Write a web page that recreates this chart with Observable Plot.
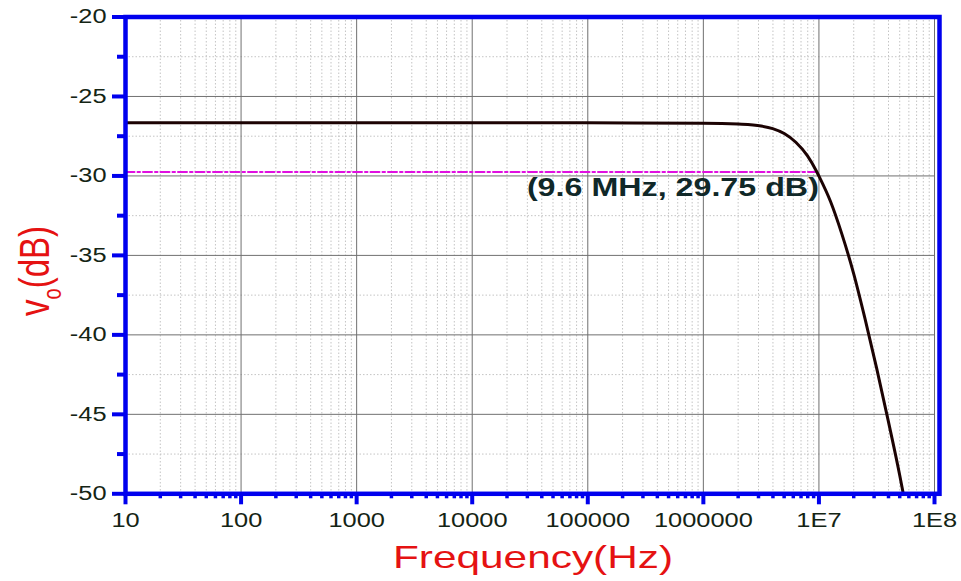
<!DOCTYPE html>
<html>
<head>
<meta charset="utf-8">
<script src="https://cdn.jsdelivr.net/npm/d3@7"></script>
<script src="https://cdn.jsdelivr.net/npm/@observablehq/plot@0.6"></script>
<style>
  html, body { margin: 0; padding: 0; background: #fff; }
  svg { display: block; }
</style>
</head>
<body>
<div id="chart"></div>
<script>
// Frequency response of the amplifier output, v_o in dB versus frequency
const freqHz = [10, 100, 1000, 1e4, 1e5, 1e6, 2.0e6, 3.16e6, 3.98e6, 5.01e6, 6.31e6, 7.94e6, 9.6e6, 1.0e7, 1.26e7, 1.58e7, 2.0e7, 2.51e7, 3.16e7, 3.98e7, 5.01e7, 5.37e7];
const gainDb = [-26.66, -26.66, -26.66, -26.66, -26.66, -26.68, -26.74, -26.86, -27.02, -27.33, -27.88, -28.72, -29.75, -30.01, -31.61, -33.66, -36.16, -39.01, -42.11, -45.41, -48.86, -50.0];

// -3 dB corner annotation
const cutoffHz = 9.6e6;
const cutoffDb = 29.75;
const cutoffLabel = "(9.6 MHz, 29.75 dB)";

// Axis ticks and labels
const xTicks = [10, 100, 1000, 1e4, 1e5, 1e6, 1e7, 1e8];
const xTickLabels = ["10", "100", "1000", "10000", "100000", "1000000", "1E7", "1E8"];
const yTicks = [-50, -45, -40, -35, -30, -25, -20];
const yTickLabels = ["-50", "-45", "-40", "-35", "-30", "-25", "-20"];
const xTitle = "Frequency(Hz)";
const yTitleMain = "v";
const yTitleSub = "o";
const yTitleUnit = "(dB)";

// Minor ticks: 2..9 within each decade, and halfway between the dB majors
const xMinor = xTicks.slice(0, -1).flatMap(d => [2, 3, 4, 5, 6, 7, 8, 9].map(k => d * k));
const yMinor = yTicks.slice(0, -1).map((v, i) => (v + yTicks[i + 1]) / 2);

const response = freqHz.map((f, i) => ({f, db: gainDb[i]}));
const marker = [{f: xTicks[0], db: -cutoffDb}, {f: cutoffHz, db: -cutoffDb}];

const blue = "#0000ee";
const tickInk = "#142414";
const titleRed = "#e51212";

const plot = Plot.plot({
  width: 961,
  height: 581,
  marginLeft: 125,
  marginRight: 27,
  marginTop: 16.5,
  marginBottom: 87.7,
  style: {fontFamily: "'Liberation Sans', Arial, sans-serif", background: "#fff"},
  x: {type: "log", domain: [10, 1e8], label: null},
  y: {domain: [-50, -20], label: null},
  marks: [
    Plot.gridX(xMinor, {stroke: "#c4c4c4", strokeOpacity: 1, strokeDasharray: "1.5,2"}),
    Plot.gridY(yMinor, {stroke: "#c4c4c4", strokeOpacity: 1, strokeDasharray: "1.5,2"}),
    Plot.gridX(xTicks, {stroke: "#707070", strokeOpacity: 1, strokeWidth: 1}),
    Plot.gridY(yTicks, {stroke: "#707070", strokeOpacity: 1, strokeWidth: 1}),
    Plot.line(marker, {x: "f", y: "db", stroke: "#e010e0", strokeWidth: 2, strokeDasharray: "9,3,2.5,3"}),
    Plot.line(response, {x: "f", y: "db", stroke: "#1c0303", strokeWidth: 3, curve: "monotone-x"}),
    Plot.text([{f: cutoffHz, db: -cutoffDb}], {
      x: "f", y: "db", text: () => cutoffLabel,
      textAnchor: "end", dx: 2, dy: 16,
      fontSize: 25, fontWeight: "bold", fill: "#102828"
    }),
    Plot.axisX(xMinor, {tickSize: 5, stroke: blue, strokeWidth: 3.5, tickFormat: () => "", label: null}),
    Plot.axisX(xTicks, {
      tickSize: 11, tickPadding: 8, stroke: blue, strokeWidth: 4,
      tickFormat: d => xTickLabels[xTicks.indexOf(d)],
      fontSize: 20, fill: tickInk, label: null
    }),
    Plot.axisY(yMinor, {tickSize: 8, stroke: blue, strokeWidth: 4, tickFormat: () => "", label: null}),
    Plot.axisY(yTicks, {
      tickSize: 13, tickPadding: 6, stroke: blue, strokeWidth: 4,
      tickFormat: d => yTickLabels[yTicks.indexOf(d)],
      fontSize: 20, fill: tickInk, label: null
    }),
    Plot.frame({stroke: blue, strokeWidth: 4.5, insetRight: -5})
  ]
});

document.getElementById("chart").append(plot);
const svg = d3.select(plot);

// Wide lettering for tick labels
svg.selectAll('g[aria-label="x-axis tick label"] text, g[aria-label="y-axis tick label"] text').each(function () {
  const w = this.getComputedTextLength();
  if (w > 0) {
    this.setAttribute("textLength", w * 1.27);
    this.setAttribute("lengthAdjust", "spacingAndGlyphs");
  }
});

// Corner annotation
svg.selectAll("text").filter(function () { return this.textContent === cutoffLabel; })
  .attr("textLength", 292).attr("lengthAdjust", "spacingAndGlyphs");

// Axis titles
svg.append("text")
  .attr("x", 533).attr("y", 568)
  .attr("text-anchor", "middle")
  .attr("font-size", 32)
  .attr("fill", titleRed)
  .attr("textLength", 280).attr("lengthAdjust", "spacingAndGlyphs")
  .text(xTitle);

const yTitle = svg.append("text")
  .attr("transform", "translate(49,271) scale(1.3,1) rotate(-90)")
  .attr("text-anchor", "middle")
  .attr("font-size", 33)
  .attr("fill", titleRed);
yTitle.append("tspan").text(yTitleMain);
yTitle.append("tspan").attr("font-size", 20).attr("dy", 9.6).text(yTitleSub);
yTitle.append("tspan").attr("dy", -9.6).text(yTitleUnit);
</script>
</body>
</html>
